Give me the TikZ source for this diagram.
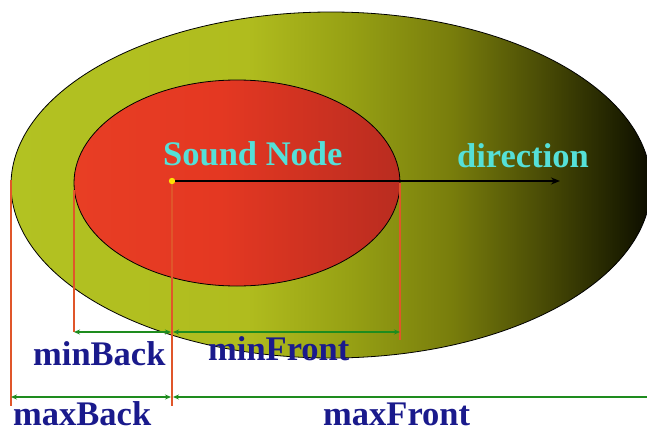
\documentclass[tikz,border=0pt]{standalone}
\usepackage{fontspec}
\setmainfont{Liberation Serif}
\usetikzlibrary{arrows.meta}
\definecolor{navy}{HTML}{1A1A8C}
\definecolor{cyantext}{HTML}{55E0D8}
\definecolor{redline}{HTML}{E0562A}
\definecolor{greenline}{HTML}{1E8C1E}
\definecolor{oA}{RGB}{178,194,34}
\definecolor{oB}{RGB}{176,188,30}
\definecolor{oC}{RGB}{150,160,20}
\definecolor{oD}{RGB}{120,125,12}
\definecolor{oE}{RGB}{70,72,5}
\definecolor{oF}{RGB}{30,32,0}
\definecolor{oG}{RGB}{12,12,0}
\definecolor{iA}{RGB}{232,62,36}
\definecolor{iB}{RGB}{228,56,34}
\definecolor{iC}{RGB}{185,44,32}
\pgfdeclarehorizontalshading{outershade}{100bp}{color(0bp)=(oA); color(25bp)=(oA); color(43.5bp)=(oB); color(51.5bp)=(oC); color(59.5bp)=(oD); color(67bp)=(oE); color(72.5bp)=(oF); color(75bp)=(oG); color(100bp)=(oG)}
\pgfdeclarehorizontalshading{innershade}{100bp}{color(0bp)=(iA); color(25bp)=(iA); color(47.5bp)=(iB); color(75bp)=(iC); color(100bp)=(iC)}
\tikzset{
  lbl/.style={font=\fontsize{34.5}{34.5}\selectfont\bfseries, text=navy, inner sep=0pt},
  cyl/.style={font=\fontsize{34.5}{34.5}\selectfont\bfseries, text=cyantext, inner sep=0pt},
  vline/.style={draw=redline, line width=1.5pt},
  dim/.style={draw=greenline, line width=1.5pt, {Stealth[length=6pt,width=5pt]}-{Stealth[length=6pt,width=5pt]}},
}
\begin{document}
\begin{tikzpicture}[x=1pt,y=-1pt]
\useasboundingbox (0,0) rectangle (647,431);
\fill[white] (0,0) rectangle (647,431);
\begin{scope}
\clip (0,0) rectangle (647,431);
\shade[shading=outershade, draw=black, line width=0.8pt] (331,185) ellipse [x radius=320, y radius=173];
\shade[shading=innershade, draw=black, line width=0.8pt] (237,183) ellipse [x radius=163, y radius=103];
% coordinates
\coordinate (src) at (172,181);
\coordinate (dirend) at (560,181);
\coordinate (a1) at (11,180);  \coordinate (a2) at (11,406);
\coordinate (b1) at (74,190);  \coordinate (b2) at (74,332);
\coordinate (c1) at (172,181); \coordinate (c2) at (172,406);
\coordinate (d1) at (400,183); \coordinate (d2) at (400,340);
\coordinate (mb1) at (74,332); \coordinate (mb2) at (171,332);
\coordinate (mf1) at (173,332); \coordinate (mf2) at (400,332);
\coordinate (xb1) at (11,397); \coordinate (xb2) at (171,397);
\coordinate (xf1) at (173,397); \coordinate (xf2) at (655,397);
\draw[vline] (a1) -- (a2);
\draw[vline] (b1) -- (b2);
\draw[vline] (c1) -- (c2);
\draw[vline] (d1) -- (d2);
\draw[dim] (mb1) -- (mb2);
\draw[dim] (mf1) -- (mf2);
\draw[dim] (xb1) -- (xb2);
\draw[dim] (xf1) -- (xf2);
\draw[black, line width=1.2pt, -{Stealth[length=9pt,width=7pt]}] (src) -- (dirend);
\fill[yellow!85!orange] (src) circle (3.2);
\node[cyl, anchor=base west] (snd) at (163,165) {Sound Node};
\node[cyl, anchor=base west] (dir) at (457,167) {direction};
\node[lbl, anchor=base west] (minb) at (33,365) {minBack};
\node[lbl, anchor=base west] (minf) at (208,360) {minFront};
\node[lbl, anchor=base west] (maxb) at (13,425) {maxBack};
\node[lbl, anchor=base west] (maxf) at (323,425) {maxFront};
\end{scope}
\end{tikzpicture}
\end{document}
